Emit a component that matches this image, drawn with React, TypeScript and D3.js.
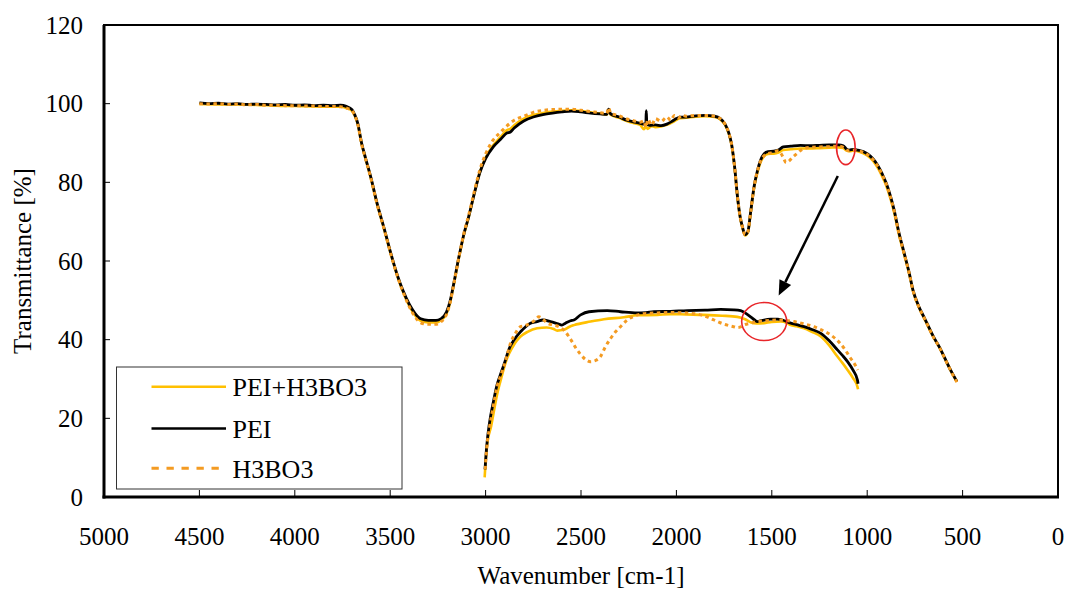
import React from "react";
import * as d3 from "d3";

type P = [number, number];

const xTicks = [5000, 4500, 4000, 3500, 3000, 2500, 2000, 1500, 1000, 500, 0];
const yTicks = [0, 20, 40, 60, 80, 100, 120];
const seriesNames = ["PEI+H3BO3", "PEI", "H3BO3"];
const seriesColors = ["#FFC000", "#000000", "#F49B22"];

// Main spectrum: PEI (black)
const peiMain: P[] = [
  [4500, 100.2], [4450, 100.0], [4400, 100.1], [4350, 99.9], [4300, 100.0], [4250, 99.8], [4200, 99.9],
  [4150, 99.8], [4100, 99.7], [4050, 99.8], [4000, 99.6], [3950, 99.7], [3900, 99.5], [3850, 99.6],
  [3800, 99.5], [3760, 99.6], [3730, 99.3], [3700, 98.5], [3686, 97.2], [3670, 95], [3650, 90],
  [3631, 86.5], [3600, 81], [3569, 74.7], [3530, 68], [3497, 62], [3460, 56], [3434, 52.6], [3400, 49],
  [3370, 46.7], [3340, 45.3], [3300, 44.9], [3260, 44.9], [3235, 45.3], [3205, 47.0], [3185, 50],
  [3170, 53.5], [3140, 61], [3113, 67], [3090, 71], [3060, 77], [3030, 82.5], [3000, 86], [2960, 89],
  [2920, 91], [2890, 92.5], [2870, 92.8], [2850, 93.8], [2800, 95.6], [2750, 96.6], [2700, 97.2],
  [2650, 97.6], [2600, 97.9], [2550, 98.1], [2500, 97.9], [2450, 97.6], [2400, 97.4], [2365, 97.3],
  [2355, 98.6], [2345, 97.4], [2300, 96.6], [2260, 95.8], [2220, 95.3], [2190, 95.0], [2170, 94.8],
  [2160, 95], [2158, 98.2], [2155, 95], [2140, 94.5], [2110, 94.6], [2080, 94.4], [2050, 94.8],
  [2020, 95.6], [2000, 96.2], [1980, 96.6], [1950, 96.6], [1900, 96.9], [1850, 97.0], [1800, 96.8],
  [1770, 96.2], [1745, 94.8], [1725, 92.5], [1710, 89.5], [1695, 84], [1680, 76.4], [1665, 71],
  [1654, 68.7], [1640, 66.7], [1625, 67.5], [1612, 72], [1593, 78.9], [1575, 83], [1560, 85.5],
  [1540, 87.3], [1520, 87.8], [1490, 87.9], [1465, 88.2], [1440, 89.0], [1400, 89.2], [1350, 89.4],
  [1300, 89.3], [1250, 89.4], [1200, 89.5], [1150, 89.5], [1125, 89.3], [1110, 88.5], [1095, 88.2],
  [1070, 88.4], [1050, 88.2], [1020, 87.8], [998, 87.2], [970, 86], [946, 84.4], [920, 82], [902, 80],
  [880, 76.8], [859, 73], [835, 67.5], [806, 62], [780, 57], [760, 52.6], [730, 48.5], [700, 45.5],
  [687, 44.2], [650, 40.5], [620, 38], [597, 35.7], [560, 32], [530, 29.4],
];

// Main spectrum: PEI+H3BO3 (yellow)
const peiH3bo3Main: P[] = [
  [4500, 99.9], [4400, 99.8], [4300, 99.8], [4200, 99.7], [4100, 99.5], [4000, 99.4], [3900, 99.3],
  [3800, 99.2], [3760, 99.2], [3730, 98.9], [3700, 98.2], [3686, 97], [3670, 94.8], [3650, 89.8],
  [3631, 86.3], [3600, 80.8], [3569, 74.5], [3530, 67.8], [3497, 61.8], [3460, 55.8], [3434, 52.3],
  [3400, 48.6], [3370, 46.2], [3340, 44.8], [3300, 44.4], [3260, 44.4], [3235, 44.9], [3205, 46.6],
  [3185, 49.6], [3170, 53.2], [3140, 60.8], [3113, 66.8], [3090, 70.9], [3060, 77], [3030, 82.6],
  [3000, 86.3], [2960, 89.4], [2920, 91.6], [2890, 93.2], [2870, 93.6], [2850, 94.5], [2800, 96.2],
  [2750, 97.1], [2700, 97.6], [2650, 98], [2600, 98.2], [2550, 98.3], [2500, 98.1], [2450, 97.8],
  [2400, 97.5], [2365, 97.2], [2355, 98.4], [2345, 97.2], [2300, 96.4], [2260, 95.6], [2220, 95],
  [2190, 94.6], [2170, 93.5], [2160, 94.2], [2150, 93.6], [2130, 94.3], [2110, 94.0], [2080, 94.2],
  [2050, 94.6], [2020, 95.3], [2000, 95.9], [1980, 96.3], [1950, 96.4], [1900, 96.7], [1850, 96.8],
  [1800, 96.6], [1770, 96], [1745, 94.6], [1725, 92.3], [1710, 89.3], [1695, 83.8], [1680, 76.2],
  [1665, 70.8], [1654, 68.5], [1640, 66.5], [1625, 67.3], [1612, 71.8], [1593, 78.6], [1575, 82.6],
  [1560, 85], [1540, 86.7], [1520, 87.2], [1490, 87.3], [1465, 87.6], [1440, 88.2], [1400, 88.4],
  [1350, 88.6], [1300, 88.6], [1250, 88.7], [1200, 88.8], [1150, 88.9], [1125, 88.7], [1110, 88.1],
  [1095, 87.9], [1070, 88.1], [1050, 87.9], [1020, 87.4], [998, 86.8], [970, 85.5], [946, 83.8],
  [920, 81.4], [902, 79.4], [880, 76.2], [859, 72.4], [835, 67], [806, 61.6], [780, 56.8], [760, 52.4],
  [730, 48.3], [700, 45.3], [687, 44], [650, 40.4], [620, 37.9], [597, 35.6], [560, 31.9], [530, 29.3],
];

// Main spectrum: H3BO3 (orange dotted)
const h3bo3Main: P[] = [
  [4500, 100.0], [4450, 99.9], [4400, 100.0], [4350, 99.8], [4300, 99.9], [4250, 99.7], [4200, 99.8],
  [4150, 99.6], [4100, 99.6], [4050, 99.5], [4000, 99.5], [3950, 99.4], [3900, 99.4], [3850, 99.3],
  [3800, 99.3], [3760, 99.2], [3730, 98.9], [3700, 98.2], [3686, 97], [3670, 94.8], [3650, 89.8],
  [3631, 86.3], [3600, 80.8], [3569, 74.5], [3530, 67.8], [3497, 61.8], [3460, 55.8], [3434, 52.3],
  [3400, 48.4], [3370, 45.8], [3340, 44.3], [3300, 43.9], [3260, 43.9], [3235, 44.5], [3205, 46.4],
  [3185, 49.6], [3170, 53.3], [3140, 61], [3113, 67.2], [3090, 71.4], [3060, 77.5], [3030, 83.2],
  [3000, 87.2], [2960, 90.8], [2920, 92.8], [2900, 93.8], [2850, 95.8], [2800, 96.8], [2750, 97.8],
  [2700, 98.3], [2650, 98.5], [2600, 98.6], [2550, 98.6], [2500, 98.3], [2450, 98], [2400, 97.7],
  [2365, 97.5], [2355, 99], [2345, 97.6], [2300, 96.9], [2260, 96.1], [2220, 95.6], [2190, 95.3],
  [2170, 95.6], [2160, 94], [2150, 96], [2130, 94.5], [2110, 96.2], [2080, 95.5], [2050, 96.6],
  [2030, 95.8], [2010, 97], [1990, 96.4], [1970, 97.1], [1950, 96.8], [1900, 97], [1850, 97],
  [1800, 96.8], [1770, 96.2], [1745, 94.8], [1725, 92.5], [1710, 89.5], [1695, 84], [1680, 76.4],
  [1665, 71], [1654, 68.7], [1640, 66.7], [1625, 67.5], [1612, 72], [1593, 78.9], [1575, 83],
  [1560, 85.3], [1540, 86.8], [1520, 87.3], [1490, 87.6], [1470, 88.0], [1450, 87.2], [1440, 86.3],
  [1425, 85], [1410, 85.4], [1390, 86.4], [1366, 87.4], [1340, 88.4], [1300, 88.9], [1250, 89],
  [1200, 89.1], [1150, 89.2], [1125, 88.9], [1110, 88.3], [1095, 88], [1070, 88.2], [1050, 88],
  [1020, 87.6], [998, 87], [970, 85.8], [946, 84.2], [920, 81.8], [902, 79.8], [880, 76.6], [859, 72.8],
  [835, 67.3], [806, 61.8], [780, 56.9], [760, 52.5], [730, 48.4], [700, 45.4], [687, 44.1],
  [650, 40.4], [620, 37.9], [597, 35.6], [560, 31.9], [530, 29.2],
];

// Magnified view drawn on the same axes
const peiInset: P[] = [
  [3003, 7], [2994, 13], [2980, 18.7], [2960, 24], [2940, 28.5], [2926, 30.6], [2905, 33.5], [2872, 38.2],
  [2853, 39.8], [2817, 42], [2790, 43.3], [2765, 44.2], [2730, 44.6], [2700, 45], [2660, 44.6],
  [2620, 44], [2600, 43.7], [2581, 44.2], [2555, 44.8], [2537, 45], [2502, 46.3], [2458, 47.1],
  [2362, 47.4], [2293, 47.1], [2205, 46.8], [2160, 46.9], [2118, 47.1], [2030, 47.2], [1943, 47.4],
  [1850, 47.5], [1768, 47.7], [1700, 47.6], [1663, 47.4], [1640, 46.8], [1611, 45.8], [1590, 45],
  [1576, 44.6], [1550, 44.9], [1506, 45.2], [1470, 45.2], [1444, 45], [1401, 44.2], [1370, 43.8],
  [1331, 43.3], [1290, 42.6], [1243, 41.6], [1200, 39.8], [1156, 37.4], [1130, 36], [1103, 34.4],
  [1075, 32.3], [1051, 29.7], [1048, 28.8],
];

const peiH3bo3Inset: P[] = [
  [3005, 5], [3000, 9], [2990, 14], [2971, 18], [2950, 23.5], [2940, 26], [2922, 29.5], [2888, 35.2],
  [2860, 38], [2836, 39.8], [2817, 40.8], [2780, 42], [2730, 42.9], [2680, 43.1], [2643, 42.7],
  [2625, 42.3], [2590, 42.5], [2560, 43.3], [2537, 43.7], [2450, 44.6], [2380, 45.2], [2275, 45.7],
  [2205, 46.2], [2100, 46.3], [2030, 46.5], [1950, 46.4], [1856, 46.3], [1760, 46.1], [1681, 45.8],
  [1640, 45.2], [1611, 44.4], [1580, 44.1], [1541, 44.2], [1500, 44.5], [1453, 44.6], [1420, 44.2],
  [1401, 43.7], [1370, 43.4], [1331, 42.9], [1290, 42], [1243, 40.8], [1200, 38.6], [1156, 35.7],
  [1130, 34.1], [1103, 32.3], [1075, 30.3], [1051, 28], [1048, 27.4],
];

const h3bo3Inset: P[] = [
  [3002, 7], [2995, 12], [2980, 17.5], [2960, 23], [2940, 28], [2920, 31], [2905, 33.1], [2885, 36.5],
  [2870, 39], [2845, 41.5], [2817, 43.3], [2790, 43.6], [2765, 44.2], [2740, 45], [2721, 45.8],
  [2700, 45.2], [2677, 44.2], [2643, 43.7], [2616, 43.3], [2585, 42.2], [2564, 40.8], [2543, 39.2],
  [2526, 37.8], [2503, 36.3], [2477, 35], [2450, 34.4], [2424, 34.7], [2398, 35.7], [2372, 38.2],
  [2345, 40.3], [2319, 42], [2293, 43.3], [2258, 45], [2220, 46], [2187, 46.5], [2100, 46.8],
  [2030, 46.9], [1960, 46.8], [1890, 46.5], [1840, 45.8], [1803, 45], [1770, 44.3], [1733, 43.7],
  [1700, 43.3], [1681, 43.1], [1660, 43.3], [1646, 43.7], [1610, 44.2], [1576, 44.6], [1530, 44.8],
  [1471, 45], [1430, 44.9], [1384, 44.6], [1330, 44], [1279, 43.3], [1240, 42.5], [1191, 41.2],
  [1150, 39.5], [1121, 37.8], [1090, 35.5], [1060, 33.3], [1049, 32.3],
];

// Annotations (data coordinates)
const mainCircle = { wn: 1112, t: 88.9 };
const insetCircle = { wn: 1540, t: 44.6 };
const arrowFrom = { wn: 1154, t: 81.6 };
const arrowTo = { wn: 1464, t: 51.2 };

const W = 1069;
const H = 591;
const L = 104;
const R = 1058;
const T = 25;
const B = 497;
const FONT = '"Times New Roman", Times, Tinos, "Liberation Serif", "Noto Serif", "DejaVu Serif", FreeSerif, serif';

export default function App() {
  const x = d3.scaleLinear().domain([5000, 0]).range([L, R]);
  const y = d3.scaleLinear().domain([0, 120]).range([B, T]);
  const line = d3
    .line<P>()
    .x((d) => x(d[0]))
    .y((d) => y(d[1]))
    .curve(d3.curveMonotoneX);

  const series = [
    { main: peiH3bo3Main, inset: peiH3bo3Inset, color: seriesColors[0], w: 2.6, dash: undefined as string | undefined },
    { main: peiMain, inset: peiInset, color: seriesColors[1], w: 2.8, dash: undefined },
    { main: h3bo3Main, inset: h3bo3Inset, color: seriesColors[2], w: 3, dash: "3.5,3.5" },
  ];

  const ax1 = x(arrowFrom.wn), ay1 = y(arrowFrom.t);
  const ax2 = x(arrowTo.wn), ay2 = y(arrowTo.t);
  const ang = Math.atan2(ay2 - ay1, ax2 - ax1);
  const headLen = 15, headW = 6.5;
  const bx = ax2 - headLen * Math.cos(ang), by = ay2 - headLen * Math.sin(ang);
  const px = -Math.sin(ang), py = Math.cos(ang);
  const head = `M${ax2},${ay2}L${bx + px * headW},${by + py * headW}L${bx - px * headW},${by - py * headW}Z`;

  const legX = 116.5, legY = 367, legW = 285.5, legH = 122;
  const legRows = [386.7, 428.5, 468.3];
  const tStyle = { fontFamily: FONT };

  return (
    <svg width={W} height={H} style={{ position: "absolute", left: 0, top: 0, background: "#fff", fontFamily: FONT }}>
      <rect x={0} y={0} width={W} height={H} fill="#fff" />
      {xTicks.map((t) => (
        <g key={"xt" + t}>
          <line x1={x(t)} x2={x(t)} y1={B} y2={B - 7} stroke="#000" strokeWidth={1} />
          <text x={x(t)} y={545} fontSize={25} textAnchor="middle" fill="#000" style={tStyle}>{t}</text>
        </g>
      ))}
      {yTicks.map((t) => (
        <g key={"yt" + t}>
          <line x1={L} x2={L + 6} y1={y(t)} y2={y(t)} stroke="#000" strokeWidth={1} />
          <text x={83} y={y(t) + 8.5} fontSize={25} textAnchor="end" fill="#000" style={tStyle}>{t}</text>
        </g>
      ))}
      {series.map((s, i) => (
        <g key={"s" + i}>
          <path d={line(s.main) || ""} fill="none" stroke={s.color} strokeWidth={s.w} strokeDasharray={s.dash} strokeLinejoin="round" />
          <path d={line(s.inset) || ""} fill="none" stroke={s.color} strokeWidth={s.w} strokeDasharray={s.dash} strokeLinejoin="round" />
        </g>
      ))}
      <ellipse cx={x(mainCircle.wn)} cy={y(mainCircle.t)} rx={9.3} ry={17.3} fill="none" stroke="#E8262A" strokeWidth={1.6} />
      <ellipse cx={x(insetCircle.wn)} cy={y(insetCircle.t)} rx={22.5} ry={19} fill="none" stroke="#E8262A" strokeWidth={1.6} />
      <line x1={ax1} y1={ay1} x2={bx} y2={by} stroke="#000" strokeWidth={2.5} />
      <path d={head} fill="#000" />
      <rect x={L} y={T} width={R - L} height={B - T} fill="none" stroke="#000" strokeWidth={2} />
      <line x1={L} x2={L} y1={T} y2={B + 1.5} stroke="#000" strokeWidth={3} />
      <line x1={L - 1.5} x2={R + 1} y1={B} y2={B} stroke="#000" strokeWidth={3} />
      <rect x={legX} y={legY} width={legW} height={legH} fill="#fff" stroke="#333" strokeWidth={1} />
      {seriesNames.map((n, i) => (
        <g key={"lg" + i}>
          <line x1={151.5} x2={226} y1={legRows[i]} y2={legRows[i]} stroke={seriesColors[i]} strokeWidth={i === 2 ? 3 : 2.6}
            strokeDasharray={i === 2 ? "7.3,7.7" : undefined} />
          <text x={232.5} y={legRows[i] + 9.3} fontSize={26} fill="#000" style={tStyle}>{n}</text>
        </g>
      ))}
      <text x={581} y={584} fontSize={25} textAnchor="middle" fill="#000" style={tStyle}>Wavenumber [cm-1]</text>
      <text transform="translate(31,261) rotate(-90)" fontSize={25} textAnchor="middle" fill="#000" style={tStyle}>Transmittance [%]</text>
    </svg>
  );
}
